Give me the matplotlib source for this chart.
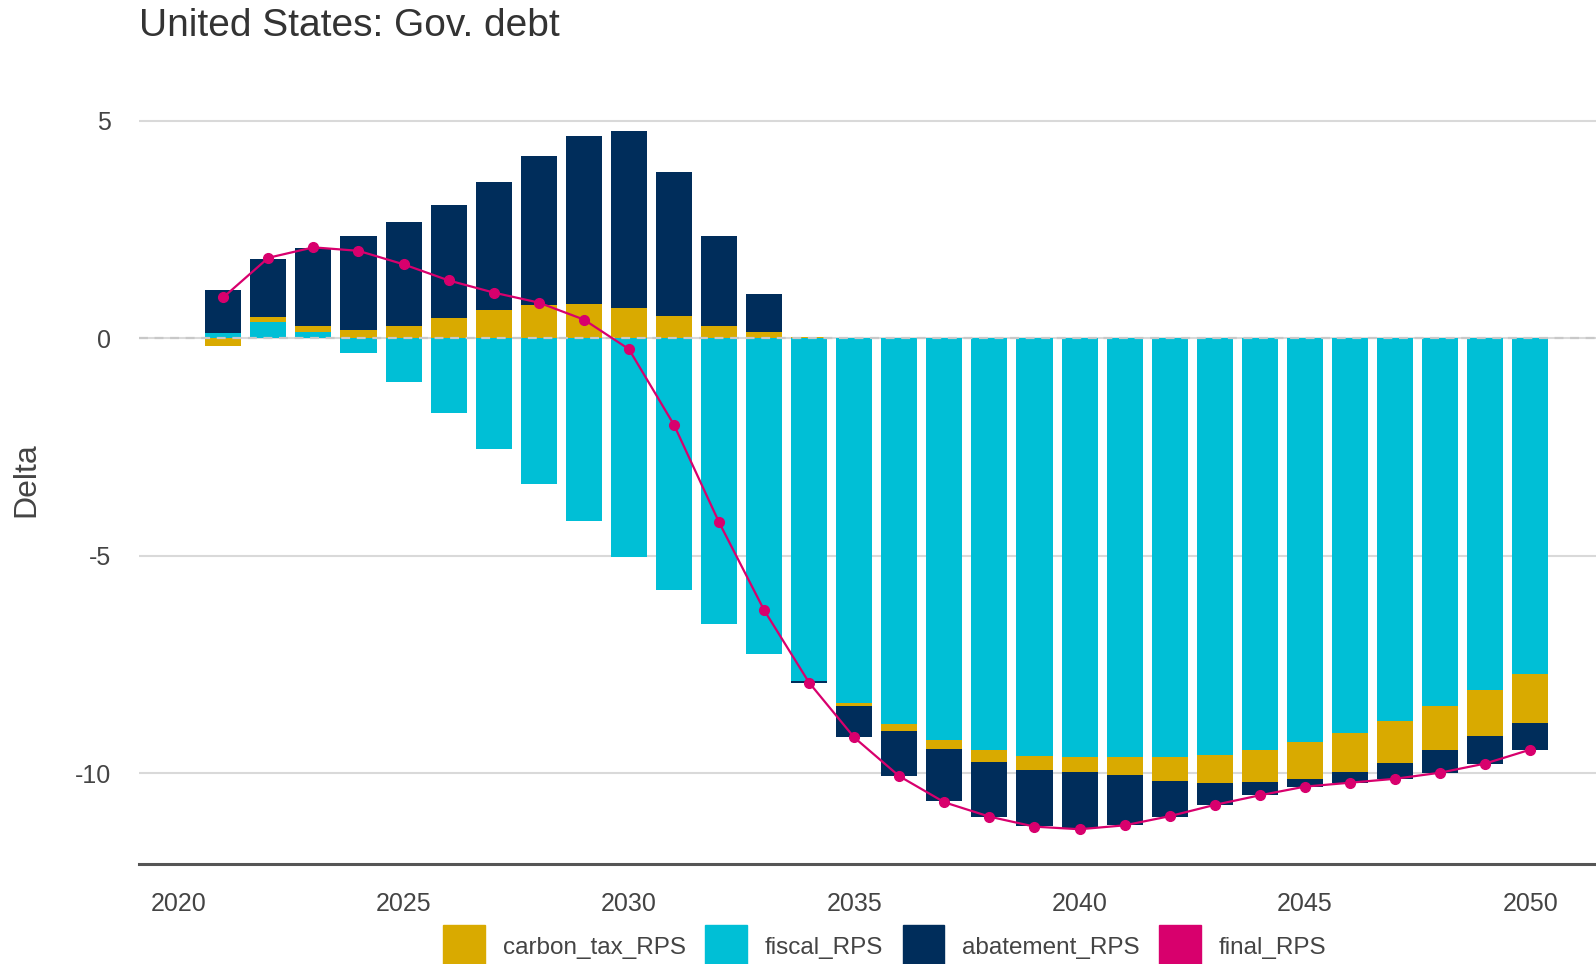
import numpy as np
import matplotlib
matplotlib.use('Agg')
import matplotlib.pyplot as plt
from matplotlib.patches import Patch

plt.rcParams['font.family'] = ['Liberation Sans', 'DejaVu Sans']
plt.rcParams['axes.unicode_minus'] = False

# Data
years = np.arange(2021, 2051)
carbon_tax_RPS = [-0.18, 0.10, 0.13, 0.18, 0.28, 0.47, 0.64, 0.77, 0.78, 0.70,
                  0.51, 0.29, 0.14, 0.02, -0.08, -0.15, -0.22, -0.29, -0.32, -0.34,
                  -0.41, -0.54, -0.64, -0.75, -0.84, -0.90, -0.97, -1.01, -1.06, -1.14]
fiscal_RPS = [0.12, 0.38, 0.15, -0.33, -1.00, -1.73, -2.54, -3.36, -4.21, -5.02,
              -5.80, -6.56, -7.25, -7.88, -8.38, -8.88, -9.23, -9.46, -9.60, -9.63,
              -9.64, -9.64, -9.59, -9.46, -9.29, -9.08, -8.80, -8.46, -8.09, -7.71]
abatement_RPS = [1.00, 1.35, 1.80, 2.16, 2.40, 2.60, 2.95, 3.42, 3.86, 4.07,
                 3.31, 2.05, 0.87, -0.04, -0.72, -1.04, -1.20, -1.25, -1.30, -1.29,
                 -1.14, -0.82, -0.50, -0.30, -0.18, -0.24, -0.37, -0.52, -0.63, -0.61]
final_RPS = [0.94, 1.85, 2.09, 2.01, 1.70, 1.33, 1.05, 0.82, 0.43, -0.25,
             -1.99, -4.23, -6.25, -7.92, -9.18, -10.07, -10.67, -11.00, -11.23, -11.29,
             -11.20, -10.99, -10.73, -10.51, -10.31, -10.22, -10.13, -9.99, -9.78, -9.46]

series = [('fiscal_RPS', fiscal_RPS, '#00BFD6'),
          ('carbon_tax_RPS', carbon_tax_RPS, '#D9AA00'),
          ('abatement_RPS', abatement_RPS, '#002D5B')]
line_color = '#D8006D'

fig = plt.figure(figsize=(15.96, 9.64), dpi=100)
ax = fig.add_axes([0.0871, 0.1037, 0.9129, 0.7967])

# stacked bars, positives and negatives stacked separately (ggplot style)
pos_base = np.zeros(len(years))
neg_base = np.zeros(len(years))
for name, vals, color in series:
    vals = np.array(vals)
    pos = np.where(vals > 0, vals, 0)
    neg = np.where(vals < 0, vals, 0)
    ax.bar(years, pos, bottom=pos_base, width=0.8, color=color, zorder=2)
    ax.bar(years, neg, bottom=neg_base, width=0.8, color=color, zorder=2)
    pos_base += pos
    neg_base += neg

ax.axhline(0, color='#c8c8c8', lw=1.6, ls=(0, (4, 3)), zorder=3)
ax.plot(years, final_RPS, color=line_color, lw=1.6, marker='o', ms=7, zorder=4)

ax.set_xlim(2019.13, 2051.46)
ax.set_ylim(-12.09, 5.57)
ax.set_xticks(np.arange(2020, 2051, 5))
ax.set_yticks([-10, -5, 0, 5])
ax.set_yticklabels(['-10', '-5', '0', '5'])
ax.grid(axis='y', color='#d9d9d9', lw=1.5, zorder=0)
ax.set_axisbelow(True)
for s in ['top', 'right', 'left']:
    ax.spines[s].set_visible(False)
ax.spines['bottom'].set_color('#555555')
ax.spines['bottom'].set_linewidth(2.2)
ax.tick_params(axis='both', length=0, labelsize=18, labelcolor='#444444')
ax.tick_params(axis='x', pad=20)
ax.tick_params(axis='y', pad=20)

fig.text(0.0163, 0.502, 'Delta', rotation=90, va='center', ha='center',
         fontsize=23, color='#444444')

fig.text(0.0871, 1 - 26 / 964, 'United States: Gov. debt', fontsize=28,
         color='#333333', va='center', ha='left')

handles = [Patch(color='#D9AA00', label='carbon_tax_RPS'),
           Patch(color='#00BFD6', label='fiscal_RPS'),
           Patch(color='#002D5B', label='abatement_RPS'),
           Patch(color=line_color, label='final_RPS')]
fig.legend(handles=handles, loc='upper center', bbox_to_anchor=(0.5545, 0.0405),
           ncol=4, frameon=False, fontsize=17.5, handlelength=1.7, handleheight=2.3,
           handletextpad=0.75, columnspacing=0.8, borderpad=0, borderaxespad=0,
           labelcolor='#444444')

fig.savefig('out.png', dpi=100)
